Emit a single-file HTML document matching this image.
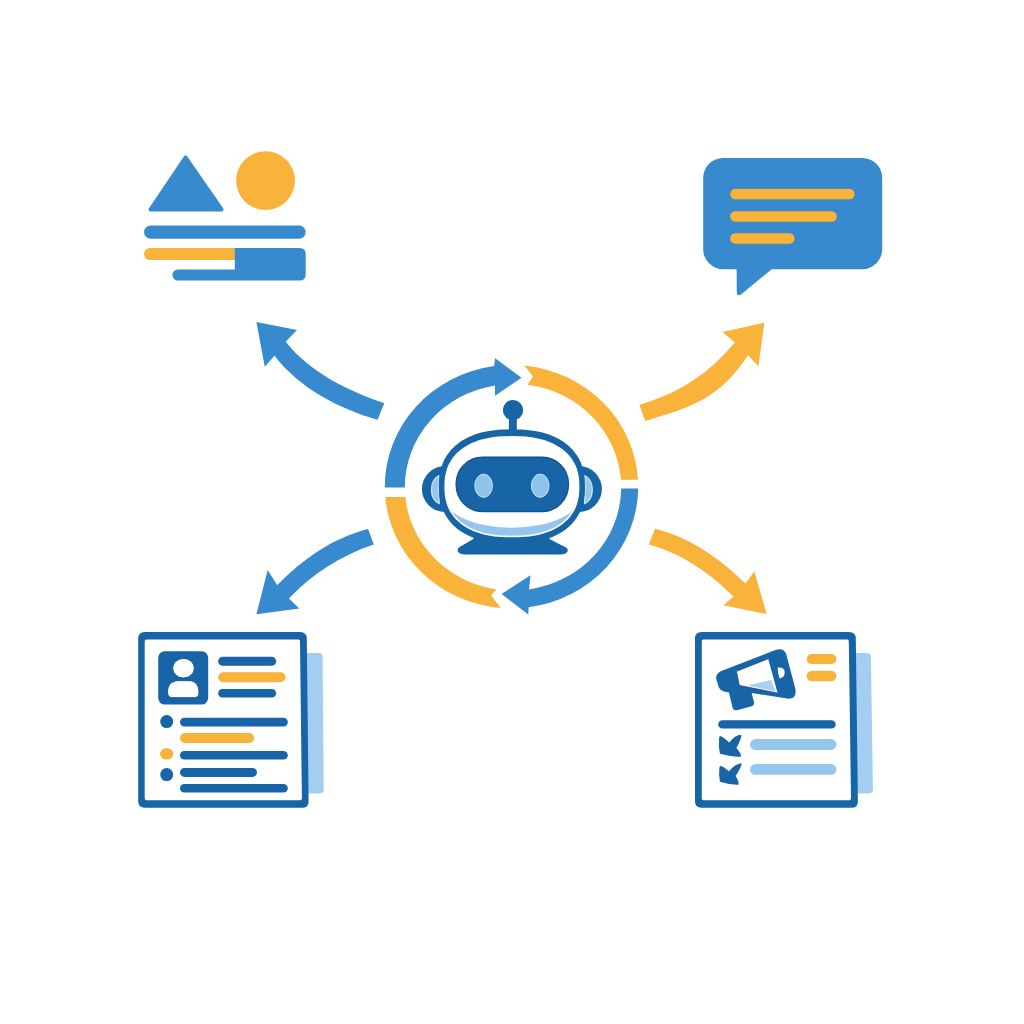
<!DOCTYPE html>
<html><head><meta charset="utf-8"><title>AI workflow diagram</title>
<style>
html,body{margin:0;padding:0;background:#fff;}
body{width:1024px;height:1024px;overflow:hidden;font-family:"Liberation Sans",sans-serif;}
svg{display:block;}
</style></head><body>
<svg width="1024" height="1024" viewBox="0 0 1024 1024">
<rect width="1024" height="1024" fill="#ffffff"/>

<!-- top-left: shapes icon -->
<g id="shapes">
<path d="M185.5,157.5 L221.5,209.5 L150.5,209.5 Z" fill="#368acd" stroke="#368acd" stroke-width="4" stroke-linejoin="round"/>
<circle cx="265.5" cy="180.6" r="29.4" fill="#f9b33a"/>
<rect x="144" y="225.5" width="161.7" height="13.2" rx="6.6" fill="#368acd"/>
<rect x="144" y="248" width="100" height="12" rx="6" fill="#f9b33a"/>
<path d="M234.8,248 H299.7 Q305.7,248 305.7,254 V274.6 Q305.7,280.6 299.7,280.6 H178 A5.6,5.6 0 0 1 178,269.4 H234.8 Z" fill="#368acd"/>
</g>

<!-- top-right: chat bubble -->
<g id="chat">
<path d="M723.2,158 H862.2 A20,20 0 0 1 882.2,178 V249.2 A20,20 0 0 1 862.2,269.2 H771.7 L741.3,294.3 Q737,297 736.8,292 L736.6,269.2 H723.2 A20,20 0 0 1 703.2,249.2 V178 A20,20 0 0 1 723.2,158 Z" fill="#368acd"/>
<rect x="729.8" y="188.4" width="125.2" height="11.4" rx="5.7" fill="#f9b33a" stroke="#2b7fdc" stroke-width="0.7"/>
<rect x="729.8" y="210.8" width="107.4" height="11.4" rx="5.7" fill="#f9b33a" stroke="#2b7fdc" stroke-width="0.7"/>
<rect x="729.8" y="232.8" width="65.2" height="11.4" rx="5.7" fill="#f9b33a" stroke="#2b7fdc" stroke-width="0.7"/>
</g>

<!-- outward arrows -->
<path d="M256.4,321.9 L297.0,329.9 L285.7,341.8 C311.0,373.2 347.1,390.3 384.3,403.3 L377.5,419.8 C338.7,408.3 299.6,388.5 274.5,355.7 L264.8,366.8 Z" fill="#368acd"/>
<path d="M764.3,322.7 L722.5,332.0 L734.8,342.5 C708.1,374.2 679.8,392.6 639.4,405.0 L645.2,420.9 C692.7,407.4 720.8,397.1 748.0,355.3 L758.4,366.2 Z" fill="#f9b33a"/>
<path d="M256.4,614.3 L267.7,569.9 L277.2,585.2 C302.5,559.5 332.6,537.8 368.1,529.0 L373.8,544.6 C341.6,555.3 312.2,573.8 289.0,598.6 L299.3,608.4 Z" fill="#368acd"/>
<path d="M766.6,613.9 L754.3,571.2 L745.6,583.6 C720.2,558.8 689.8,537.2 654.9,528.8 L648.8,544.6 C681.4,553.0 709.8,573.4 733.6,596.6 L723.4,605.3 Z" fill="#f9b33a"/>

<!-- ring -->
<path d="M384.8,487.4 A126.7,121.7 0 0 1 494.2,366.1 L495.1,358.3 L521.5,377.8 L495.1,395.7 L494.8,385.4 A108.2,103.3 0 0 0 404.8,487.4 Z" fill="#368acd"/>
<path d="M524.4,365.6 A126.7,121.7 0 0 1 638.0,479.8 L620.9,479.8 A108.2,103.3 0 0 0 527.5,384.8 L533,376.4 Z" fill="#f9b33a"/>
<path d="M638.2,488.6 A126.7,121.7 0 0 1 528.6,607.3 L528.3,614.4 L501.5,594 L530.5,575.2 L529.0,589.4 A108.2,103.3 0 0 0 621.2,488.6 Z" fill="#368acd"/>
<path d="M500.9,608.0 A126.7,121.7 0 0 1 385.3,497.0 L405.3,497.0 A108.2,103.3 0 0 0 496.4,589.3 L491.2,595.4 Z" fill="#f9b33a"/>

<!-- robot -->
<g id="robot">
<circle cx="513" cy="410.1" r="10.2" fill="#1764a6"/>
<rect x="508.9" y="415" width="7.9" height="18" fill="#1764a6"/>
<circle cx="445" cy="489" r="23.1" fill="#1764a6"/>
<circle cx="578.8" cy="489" r="23.1" fill="#1764a6"/>
<path d="M439.3,475.5 C428.8,480 428.8,499 439.3,503.7 Q437.8,489.5 439.3,475.5 Z" fill="#96c6ee" stroke="#d4e9fa" stroke-width="1.1" stroke-linejoin="round"/>
<path d="M584.5,475.5 C595,480 595,499 584.5,503.7 Q586,489.5 584.5,475.5 Z" fill="#96c6ee" stroke="#d4e9fa" stroke-width="1.1" stroke-linejoin="round"/>
<path d="M476,534 L473.2,539 Q466,543.5 459.5,547 Q456.5,549.5 458.2,552 Q459.5,554.4 465,554.4 L560,554.4 Q566,554.4 567.2,552 Q568.8,549.5 566,547.5 Q558,543.5 549.5,539 L548,534 Z" fill="#1764a6"/>
<path d="M584.9,486.4 L584.8,491.0 L584.6,494.8 L584.1,498.2 L583.5,501.4 L582.8,504.5 L581.8,507.4 L580.8,510.2 L579.5,513.0 L578.1,515.6 L576.5,518.1 L574.7,520.4 L572.9,522.7 L570.8,524.9 L568.6,527.0 L566.3,528.9 L563.8,530.8 L561.1,532.5 L558.3,534.1 L555.4,535.6 L552.4,536.9 L549.2,538.2 L545.8,539.3 L542.4,540.3 L538.8,541.1 L535.0,541.8 L531.1,542.4 L527.0,542.9 L522.6,543.2 L517.8,543.4 L511.9,543.5 L506.0,543.4 L501.2,543.2 L496.8,542.9 L492.7,542.4 L488.8,541.8 L485.0,541.1 L481.4,540.3 L478.0,539.3 L474.6,538.2 L471.4,536.9 L468.4,535.6 L465.5,534.1 L462.7,532.5 L460.0,530.8 L457.5,528.9 L455.2,527.0 L453.0,524.9 L450.9,522.7 L449.1,520.4 L447.3,518.1 L445.7,515.6 L444.3,513.0 L443.0,510.2 L442.0,507.4 L441.0,504.5 L440.3,501.4 L439.7,498.2 L439.2,494.8 L439.0,491.0 L438.9,486.4 L439.0,481.8 L439.2,478.0 L439.7,474.6 L440.3,471.4 L441.0,468.3 L442.0,465.4 L443.0,462.6 L444.3,459.8 L445.7,457.2 L447.3,454.7 L449.1,452.4 L450.9,450.1 L453.0,447.9 L455.2,445.8 L457.5,443.9 L460.0,442.0 L462.7,440.3 L465.5,438.7 L468.4,437.2 L471.4,435.9 L474.6,434.6 L478.0,433.5 L481.4,432.5 L485.0,431.7 L488.8,431.0 L492.7,430.4 L496.8,429.9 L501.2,429.6 L506.0,429.4 L511.9,429.3 L517.8,429.4 L522.6,429.6 L527.0,429.9 L531.1,430.4 L535.0,431.0 L538.8,431.7 L542.4,432.5 L545.8,433.5 L549.2,434.6 L552.4,435.9 L555.4,437.2 L558.3,438.7 L561.1,440.3 L563.8,442.0 L566.3,443.9 L568.6,445.8 L570.8,447.9 L572.9,450.1 L574.7,452.4 L576.5,454.7 L578.1,457.2 L579.5,459.8 L580.8,462.6 L581.8,465.4 L582.8,468.3 L583.5,471.4 L584.1,474.6 L584.6,478.0 L584.8,481.8 Z" fill="#1764a6"/>
<path d="M579.4,486.7 L579.3,490.8 L579.1,494.1 L578.7,497.1 L578.1,500.0 L577.4,502.7 L576.6,505.3 L575.6,507.8 L574.4,510.2 L573.1,512.5 L571.6,514.8 L570.0,516.9 L568.3,518.9 L566.4,520.8 L564.3,522.6 L562.2,524.4 L559.9,526.0 L557.4,527.5 L554.8,528.9 L552.1,530.3 L549.3,531.5 L546.4,532.6 L543.3,533.6 L540.1,534.4 L536.7,535.2 L533.3,535.8 L529.6,536.4 L525.8,536.8 L521.8,537.1 L517.4,537.2 L511.9,537.3 L506.4,537.2 L502.0,537.1 L498.0,536.8 L494.2,536.4 L490.5,535.8 L487.1,535.2 L483.7,534.4 L480.5,533.6 L477.4,532.6 L474.5,531.5 L471.7,530.3 L469.0,528.9 L466.4,527.5 L463.9,526.0 L461.6,524.4 L459.5,522.6 L457.4,520.8 L455.5,518.9 L453.8,516.9 L452.2,514.8 L450.7,512.5 L449.4,510.2 L448.2,507.8 L447.2,505.3 L446.4,502.7 L445.7,500.0 L445.1,497.1 L444.7,494.1 L444.5,490.8 L444.4,486.7 L444.5,482.6 L444.7,479.3 L445.1,476.3 L445.7,473.4 L446.4,470.7 L447.2,468.1 L448.2,465.6 L449.4,463.2 L450.7,460.9 L452.2,458.6 L453.8,456.5 L455.5,454.5 L457.4,452.6 L459.5,450.8 L461.6,449.0 L463.9,447.4 L466.4,445.9 L469.0,444.5 L471.7,443.1 L474.5,441.9 L477.4,440.8 L480.5,439.8 L483.7,439.0 L487.1,438.2 L490.5,437.6 L494.2,437.0 L498.0,436.6 L502.0,436.3 L506.4,436.2 L511.9,436.1 L517.4,436.2 L521.8,436.3 L525.8,436.6 L529.6,437.0 L533.3,437.6 L536.7,438.2 L540.1,439.0 L543.3,439.8 L546.4,440.8 L549.3,441.9 L552.1,443.1 L554.8,444.5 L557.4,445.9 L559.9,447.4 L562.2,449.0 L564.3,450.8 L566.4,452.6 L568.3,454.5 L570.0,456.5 L571.6,458.6 L573.1,460.9 L574.4,463.2 L575.6,465.6 L576.6,468.1 L577.4,470.7 L578.1,473.4 L578.7,476.3 L579.1,479.3 L579.3,482.6 Z" fill="#ffffff"/>
<clipPath id="hc"><path d="M578.1,486.3 L578.0,490.3 L577.8,493.5 L577.4,496.5 L576.9,499.3 L576.2,501.9 L575.3,504.5 L574.3,506.9 L573.2,509.3 L571.9,511.5 L570.5,513.7 L568.9,515.8 L567.2,517.7 L565.3,519.6 L563.3,521.4 L561.2,523.1 L558.9,524.7 L556.5,526.2 L554.0,527.5 L551.4,528.8 L548.6,530.0 L545.7,531.1 L542.7,532.0 L539.5,532.9 L536.3,533.6 L532.9,534.3 L529.3,534.8 L525.6,535.2 L521.6,535.5 L517.3,535.6 L511.9,535.7 L506.5,535.6 L502.2,535.5 L498.2,535.2 L494.5,534.8 L490.9,534.3 L487.5,533.6 L484.3,532.9 L481.1,532.0 L478.1,531.1 L475.2,530.0 L472.4,528.8 L469.8,527.5 L467.3,526.2 L464.9,524.7 L462.6,523.1 L460.5,521.4 L458.5,519.6 L456.6,517.7 L454.9,515.8 L453.3,513.7 L451.9,511.5 L450.6,509.3 L449.5,506.9 L448.5,504.5 L447.6,501.9 L446.9,499.3 L446.4,496.5 L446.0,493.5 L445.8,490.3 L445.7,486.3 L445.8,482.3 L446.0,479.1 L446.4,476.1 L446.9,473.3 L447.6,470.7 L448.5,468.1 L449.5,465.7 L450.6,463.3 L451.9,461.1 L453.3,458.9 L454.9,456.8 L456.6,454.9 L458.5,453.0 L460.5,451.2 L462.6,449.5 L464.9,447.9 L467.3,446.4 L469.8,445.1 L472.4,443.8 L475.2,442.6 L478.1,441.5 L481.1,440.6 L484.3,439.7 L487.5,439.0 L490.9,438.3 L494.5,437.8 L498.2,437.4 L502.2,437.1 L506.5,437.0 L511.9,436.9 L517.3,437.0 L521.6,437.1 L525.6,437.4 L529.3,437.8 L532.9,438.3 L536.3,439.0 L539.5,439.7 L542.7,440.6 L545.7,441.5 L548.6,442.6 L551.4,443.8 L554.0,445.1 L556.5,446.4 L558.9,447.9 L561.2,449.5 L563.3,451.2 L565.3,453.0 L567.2,454.9 L568.9,456.8 L570.5,458.9 L571.9,461.1 L573.2,463.3 L574.3,465.7 L575.3,468.1 L576.2,470.7 L576.9,473.3 L577.4,476.1 L577.8,479.1 L578.0,482.3 Z"/></clipPath>
<g clip-path="url(#hc)"><rect x="440" y="500" width="145" height="45" fill="#96c6ee"/><ellipse cx="511.9" cy="492.4" rx="71.2" ry="35.4" fill="#ffffff"/></g>
<rect x="456.1" y="457.1" width="112.4" height="54.5" rx="26.5" fill="#1764a6" stroke="#0f4f93" stroke-width="1.2"/>
<ellipse cx="483.6" cy="485.7" rx="8.8" ry="11.6" fill="#8fc3ec" stroke="#c6e3f8" stroke-width="1"/>
<ellipse cx="540.2" cy="485.7" rx="8.8" ry="11.6" fill="#8fc3ec" stroke="#c6e3f8" stroke-width="1"/>
</g>

<!-- bottom-left: profile card -->
<g id="profile">
<path d="M302.0,657.1 Q302.0,653.1 306.0,653.1 L318.6,653.1 Q322.6,653.1 322.6,657.1 L323.7,789.4 Q323.7,793.4 319.7,793.4 L306.0,793.4 Q302.0,793.4 302.0,789.4 Z" fill="#a3cdf1"/>
<path d="M138.2,638.5 Q138.2,632.0 144.7,632.0 L300.2,632.0 Q306.7,632.0 306.8,638.5 L308.6,801.3 Q308.7,807.8 302.2,807.8 L144.7,807.8 Q138.2,807.8 138.2,801.3 Z" fill="#1764a6"/>
<path d="M144.7,641.3 Q144.7,639.5 146.5,639.5 L298.2,639.5 Q300.0,639.5 300.0,641.3 L301.9,798.4 Q301.9,800.2 300.1,800.2 L146.5,800.2 Q144.7,800.2 144.7,798.4 Z" fill="#ffffff"/>
<rect x="158.2" y="651.3" width="50" height="53.3" rx="6.5" fill="#1764a6"/>
<ellipse cx="183.5" cy="668.2" rx="10.8" ry="9.8" fill="#ffffff" stroke="#0f4f93" stroke-width="0.9"/>
<path d="M167.5,692 C167.5,686 170.5,681.2 178,680.6 L190.5,680.7 C196.3,681.5 199,686.5 199,692.2 Q199,697.6 194.3,697.7 L172.2,697.7 Q167.5,697.6 167.5,692 Z" fill="#ffffff" stroke="#0f4f93" stroke-width="0.9"/>
<rect x="218.2" y="656.7" width="57.9" height="9" rx="4.5" fill="#1764a6"/>
<rect x="218.2" y="672.2" width="67.3" height="10.1" rx="5" fill="#f9b33a"/>
<rect x="218.2" y="689" width="57.9" height="8.6" rx="4.3" fill="#1764a6"/>
<circle cx="166.7" cy="721.6" r="6.5" fill="#1764a6"/>
<rect x="180" y="717.8" width="107.8" height="8.6" rx="4.3" fill="#1764a6"/>
<rect x="180" y="733.1" width="74.1" height="9.9" rx="4.9" fill="#f9b33a"/>
<ellipse cx="166.7" cy="753.8" rx="6.7" ry="5.8" fill="#f9b33a"/>
<rect x="180" y="751" width="107.8" height="8.6" rx="4.3" fill="#1764a6"/>
<circle cx="166.7" cy="774.6" r="6.5" fill="#1764a6"/>
<rect x="180" y="767.9" width="77" height="9" rx="4.5" fill="#1764a6"/>
<rect x="180" y="784" width="107.8" height="8.6" rx="4.3" fill="#1764a6"/>
</g>

<!-- bottom-right: campaign card -->
<g id="campaign">
<path d="M851.0,657.1 Q851.0,653.1 855.0,653.1 L866.8,653.1 Q870.8,653.1 870.9,657.1 L872.9,789.4 Q873.0,793.4 869.0,793.4 L855.0,793.4 Q851.0,793.4 851.0,789.4 Z" fill="#a3cdf1"/>
<path d="M695.0,638.5 Q695.0,632.0 701.5,632.0 L849.2,632.0 Q855.7,632.0 855.8,638.5 L857.9,801.3 Q858.0,807.8 851.5,807.8 L701.5,807.8 Q695.0,807.8 695.0,801.3 Z" fill="#1764a6"/>
<path d="M701.8,641.3 Q701.8,639.5 703.6,639.5 L847.0,639.5 Q848.8,639.5 848.8,641.3 L851.0,798.4 Q851.0,800.2 849.2,800.2 L703.6,800.2 Q701.8,800.2 701.8,798.4 Z" fill="#ffffff"/>
<rect x="806.7" y="654" width="29.7" height="10.1" rx="5" fill="#f9b33a"/>
<rect x="806.7" y="670.8" width="29.7" height="10.5" rx="5.2" fill="#f9b33a"/>
<path d="M722,670.8 L775.5,650 Q783,647.3 786,653.5 L795.3,688.5 Q797.3,699.8 787,698.6 L751.6,692.9 L754,702 Q754.8,705.2 751.5,706.3 L737,710.2 Q733.6,711 732.6,707.7 L729,692.6 L724,691.5 Q719.5,690 718.3,686 L716.3,679 Q715.3,673.5 722,670.8 Z" fill="#1764a6"/>
<path d="M736.4,671.3 L768.6,658.6 L778.1,693.2 L739.3,685.4 Z" fill="#ffffff" stroke="#0f4f93" stroke-width="0.8" stroke-linejoin="round"/>
<path d="M747.6,685.6 L771,680 L775.6,691.4 Z" fill="#a9d0f0"/>
<path d="M777.6,667.6 Q784.6,667 784.7,672.5 Q784.6,677.6 779.6,678.4 Q777.6,673 777.6,667.6 Z" fill="#ffffff"/>
<rect x="718.2" y="720.2" width="117.5" height="8.4" rx="4.2" fill="#1764a6"/>
<rect x="750" y="739.1" width="86.4" height="10.8" rx="5.4" fill="#96c6ee"/>
<rect x="750" y="764.1" width="86.4" height="10.6" rx="5.3" fill="#96c6ee"/>
<path d="M720,736 Q722,735.6 729.2,742.6 Q735,735 741.3,734.8 Q742.3,737 736.4,748 Q741,753 741,756.5 Q735,757.5 720,753.8 Q718.3,748 719,740 Q719,736.5 720,736 Z" fill="#1764a6"/>
<path d="M720.3,766 Q723,766 728.9,771.3 Q735,764 741.6,763 Q742,766 735.7,776 Q739,781 738.5,784.7 Q730,785 720,781.8 Q718.6,775 719.3,768.5 Q719.5,766.3 720.3,766 Z" fill="#1764a6"/>
</g>
</svg>
</body></html>
